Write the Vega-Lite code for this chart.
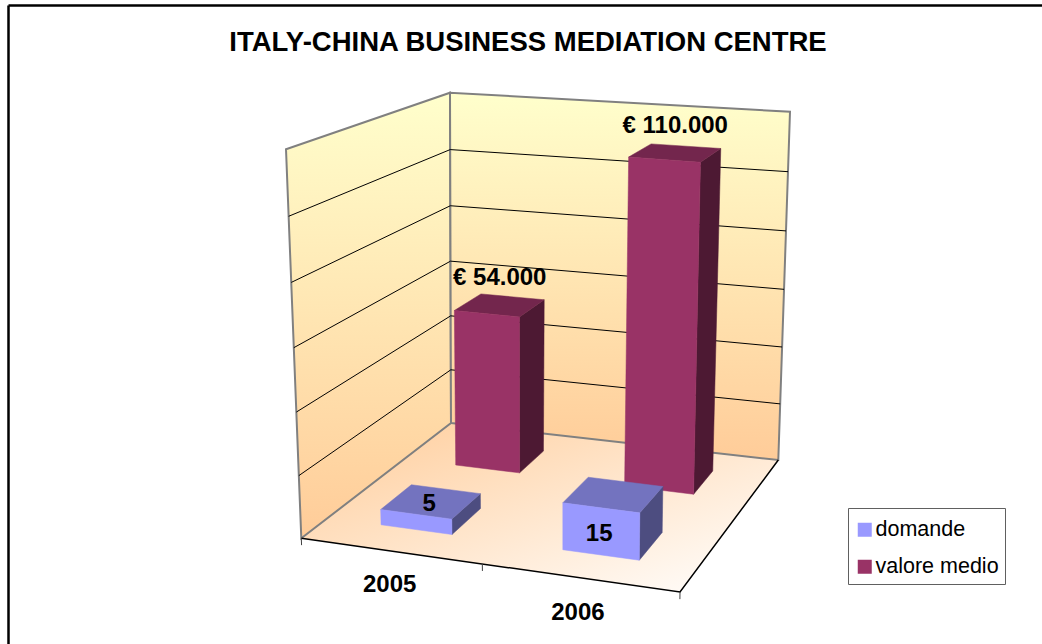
{
"$schema":"https://vega.github.io/schema/vega-lite/v6.json",
"width":1034,"height":639,"autosize":{"type":"none"},
"padding":{"left":8,"top":5,"right":0,"bottom":0},
"background":"white",
"view":{"stroke":null},
"config":{"font":"Liberation Sans"},
"title":{"text":"ITALY-CHINA BUSINESS MEDIATION CENTRE","anchor":"middle","offset":0,"baseline":"alphabetic","dy":73,"dx":3,"fontSize":27.5,"fontWeight":"bold","color":"#000000","font":"Liberation Sans"},
"data":{"values":[
{"tipo":"ambiente"},
{"tipo":"griglia","valore":20},{"tipo":"griglia","valore":40},{"tipo":"griglia","valore":60},{"tipo":"griglia","valore":80},{"tipo":"griglia","valore":100},
{"tipo":"tacca","bordo":0},{"tipo":"tacca","bordo":1},{"tipo":"tacca","bordo":2},
{"tipo":"categoria","anno":"2005"},{"tipo":"categoria","anno":"2006"},
{"tipo":"barra","anno":"2005","serie":"valore medio","valore":54,"etichetta":"€ 54.000"},
{"tipo":"barra","anno":"2006","serie":"valore medio","valore":110,"etichetta":"€ 110.000"},
{"tipo":"barra","anno":"2005","serie":"domande","valore":5,"etichetta":"5"},
{"tipo":"barra","anno":"2006","serie":"domande","valore":15,"etichetta":"15"}
]},
"transform":[
{"calculate":"datum.tipo=='barra'?['fianco','cima','fronte',datum.valore==15?'etichettaFronte':'etichettaCima']:datum.tipo=='ambiente'?['pavimento','sinistra','fondo','bordo']:[datum.tipo]","as":"faccia"},
{"flatten":["faccia"]},
{"calculate":"{'fronte':[[0,0,0,0],[1,0,0,1],[1,0,1,2],[0,0,1,3]],'fianco':[[1,0,0,0],[1,1,0,1],[1,1,1,2],[1,0,1,3]],'cima':[[0,0,1,0],[1,0,1,1],[1,1,1,2],[0,1,1,3]],'sinistra':[[0,0,0,0],[0,1,0,1],[0,1,1,2],[0,0,1,3]],'fondo':[[0,1,0,0],[1,1,0,1],[1,1,1,2],[0,1,1,3]],'pavimento':[[0,0,0,0],[1,0,0,1],[1,1,0,2],[0,1,0,3]],'bordo':[[0,0,0,0],[1,0,0,1],[1,1,0,2]],'griglia':[[0,0,0,0],[0,1,0,1],[1,1,0,2]],'tacca':[[0,0,0,0],[0,0,1,1]],'categoria':[[0.5,0,0,0]],'etichettaCima':[[0.5,0.5,1,0]],'etichettaFronte':[[0.5,0,0.5,0]]}[datum.faccia]","as":"vertici"},
{"flatten":["vertici"],"as":["vertice"]},
{"calculate":"datum.vertice[3]","as":"ordine"},
{"calculate":"(datum.anno=='2005'?0.143:datum.anno=='2006'?0.635:datum.tipo=='tacca'?[0,0.478,1][datum.bordo]:0)+(datum.serie=='valore medio'?0.006:0)","as":"c0"},
{"calculate":"datum.anno=='2005'?0.335:datum.anno=='2006'?0.842:datum.tipo=='tacca'?datum.c0:1","as":"c1"},
{"calculate":"datum.tipo=='barra'?(datum.serie=='domande'?0.18:0.69):0","as":"d0"},
{"calculate":"datum.tipo=='barra'?(datum.serie=='domande'?0.395:0.87):1","as":"d1"},
{"calculate":"datum.tipo=='griglia'?datum.valore:datum.tipo=='tacca'?-2.2:datum.tipo=='categoria'?-10.5:0","as":"v0"},
{"calculate":"datum.tipo=='barra'||datum.tipo=='griglia'?datum.valore:datum.tipo=='ambiente'?120:datum.tipo=='categoria'?-10.5:0","as":"v1"},
{"calculate":"datum.c0+datum.vertice[0]*(datum.c1-datum.c0)","as":"C"},
{"calculate":"datum.d0+datum.vertice[1]*(datum.d1-datum.d0)","as":"D"},
{"calculate":"(datum.v0+datum.vertice[2]*(datum.v1-datum.v0))/120","as":"V0"},
{"calculate":"datum.V0-0.04*datum.V0*(1-datum.V0)","as":"V"},
{"calculate":"(1-datum.V)*((1-datum.D)*((1-datum.C)*301.3+datum.C*680)+datum.D*((1-datum.C)*451+datum.C*778.3))+datum.V*((1-datum.D)*((1-datum.C)*286+datum.C*686)+datum.D*((1-datum.C)*450+datum.C*790))","as":"px"},
{"calculate":"(1-datum.V)*((1-datum.D)*((1-datum.C)*538.3+datum.C*592)+datum.D*((1-datum.C)*423+datum.C*460))+datum.V*((1-datum.D)*((1-datum.C)*149.3+datum.C*186)+datum.D*((1-datum.C)*92.7+datum.C*111.7))","as":"py"}
],
"encoding":{
"x":{"field":"px","type":"quantitative","scale":{"domain":[8,1042],"nice":false,"zero":false},"axis":{"orient":"top","title":null,"labels":false,"ticks":false,"grid":false,"domainColor":"#000000","domainWidth":2.5}},
"y":{"field":"py","type":"quantitative","scale":{"domain":[644,5],"nice":false,"zero":false},"axis":{"orient":"left","title":null,"labels":false,"ticks":false,"grid":false,"domainColor":"#000000","domainWidth":2.5}},
"order":{"field":"ordine","type":"quantitative"}
},
"layer":[
{"transform":[{"filter":"datum.faccia=='pavimento'"}],
 "mark":{"type":"line","interpolate":"linear-closed","strokeWidth":0,"fill":{"gradient":"linear","x1":0,"y1":0,"x2":1,"y2":1,"stops":[{"offset":0,"color":"#FFCC99"},{"offset":1,"color":"#FFFFFF"}]}}},
{"transform":[{"filter":"datum.faccia=='sinistra'"}],
 "mark":{"type":"line","interpolate":"linear-closed","stroke":"#808080","strokeWidth":2,"fill":{"gradient":"linear","x1":0,"y1":0,"x2":0,"y2":1,"stops":[{"offset":0,"color":"#FFFFCC"},{"offset":1,"color":"#FFCC99"}]}}},
{"transform":[{"filter":"datum.faccia=='fondo'"}],
 "mark":{"type":"line","interpolate":"linear-closed","stroke":"#808080","strokeWidth":2,"fill":{"gradient":"linear","x1":0,"y1":0,"x2":0,"y2":1,"stops":[{"offset":0,"color":"#FFFFCC"},{"offset":1,"color":"#FFCC99"}]}}},
{"transform":[{"filter":"datum.faccia=='griglia'"}],
 "mark":{"type":"line","stroke":"#000000","strokeWidth":1},"encoding":{"detail":{"field":"valore"}}},
{"transform":[{"filter":"datum.faccia=='bordo'"}],
 "mark":{"type":"line","stroke":"#000000","strokeWidth":1.5}},
{"transform":[{"filter":"datum.faccia=='tacca'"}],
 "mark":{"type":"line","stroke":"#404040","strokeWidth":1},"encoding":{"detail":{"field":"bordo"}}},
{"transform":[{"filter":"datum.serie=='valore medio'&&datum.faccia=='fianco'"}],
 "mark":{"type":"line","interpolate":"linear-closed","stroke":"#4D1933","strokeWidth":0.5,"fill":"#4D1933"},"encoding":{"detail":{"field":"anno"}}},
{"transform":[{"filter":"datum.serie=='valore medio'&&datum.faccia=='cima'"}],
 "mark":{"type":"line","interpolate":"linear-closed","stroke":"#73264D","strokeWidth":0.5,"fill":"#73264D"},"encoding":{"detail":{"field":"anno"}}},
{"transform":[{"filter":"datum.serie=='valore medio'&&datum.faccia=='fronte'"}],
 "mark":{"type":"line","interpolate":"linear-closed","stroke":"#993366","strokeWidth":0.5},
 "encoding":{"detail":{"field":"anno"},"fill":{"field":"serie","type":"nominal","scale":{"domain":["domande","valore medio"],"range":["#9999FF","#993366"]},
  "legend":{"title":" ","titleFontSize":1,"titlePadding":4,"orient":"none","legendX":840,"legendY":503,"symbolType":"square","symbolSize":196,"symbolStrokeWidth":0,"labelFontSize":21.5,"labelFont":"Liberation Sans","labelColor":"#000000","strokeColor":"#606060","padding":6,"rowPadding":14,"labelOffset":0,"fillColor":"#FFFFFF"}}}},
{"transform":[{"filter":"datum.serie=='domande'&&datum.faccia=='fianco'"}],
 "mark":{"type":"line","interpolate":"linear-closed","stroke":"#4D4D80","strokeWidth":0.5,"fill":"#4D4D80"},"encoding":{"detail":{"field":"anno"}}},
{"transform":[{"filter":"datum.serie=='domande'&&datum.faccia=='cima'"}],
 "mark":{"type":"line","interpolate":"linear-closed","stroke":"#7373BF","strokeWidth":0.5,"fill":"#7373BF"},"encoding":{"detail":{"field":"anno"}}},
{"transform":[{"filter":"datum.serie=='domande'&&datum.faccia=='fronte'"}],
 "mark":{"type":"line","interpolate":"linear-closed","stroke":"#9999FF","strokeWidth":0.5},
 "encoding":{"detail":{"field":"anno"},"fill":{"field":"serie","type":"nominal","scale":{"domain":["domande","valore medio"],"range":["#9999FF","#993366"]}}}},
{"transform":[{"filter":"datum.serie=='valore medio'&&(datum.faccia=='etichettaCima'||datum.faccia=='etichettaFronte')"}],
 "mark":{"type":"text","fontSize":24,"fontWeight":"bold","color":"#000000","baseline":"middle","align":"center","dy":-27},
 "encoding":{"text":{"field":"etichetta"}}},
{"transform":[{"filter":"datum.serie=='domande'&&(datum.faccia=='etichettaCima'||datum.faccia=='etichettaFronte')"}],
 "mark":{"type":"text","fontSize":24,"fontWeight":"bold","color":"#000000","baseline":"middle","align":"center","dx":-2,"dy":2.5},
 "encoding":{"text":{"field":"etichetta"}}},
{"transform":[{"filter":"datum.faccia=='categoria'"}],
 "mark":{"type":"text","fontSize":24,"fontWeight":"bold","color":"#000000","baseline":"middle","align":"center","dx":-3,"dy":1},
 "encoding":{"text":{"field":"anno"}}}
]
}
